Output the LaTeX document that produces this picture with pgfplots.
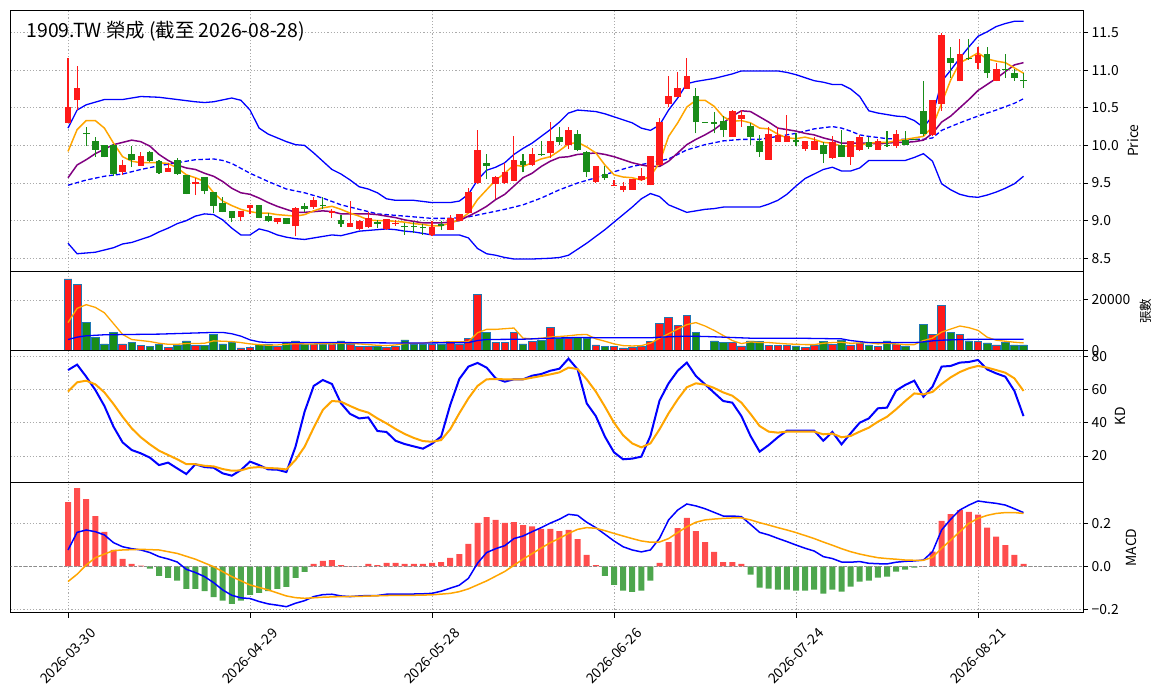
\documentclass[border=0pt]{standalone}
\usepackage{pgfplots}
\pgfplotsset{compat=1.18}
\usepackage{pgfplotstable}
\usepackage{fontspec}
\setmainfont{Noto Sans CJK TC}
\definecolor{cRed}{RGB}{255,25,25}
\definecolor{cGreen}{RGB}{25,140,25}
\definecolor{hRed}{RGB}{255,77,77}
\definecolor{hGreen}{RGB}{77,166,77}
\definecolor{cOrange}{RGB}{255,165,0}
\definecolor{cPurple}{RGB}{128,0,128}
\definecolor{cEdge}{RGB}{31,119,180}
\definecolor{cBlue}{RGB}{0,0,255}
\newcommand\tf{\fontsize{13.9bp}{16bp}\selectfont}

\pgfplotstableread{
i o h l c
0 10.30 11.16 10.30 10.51
1 10.60 11.05 10.47 10.76
6 9.65 9.81 9.61 9.74
8 9.73 9.91 9.73 9.86
11 9.65 9.77 9.65 9.70
14 9.49 9.57 9.34 9.52
19 9.05 9.13 8.99 9.13
20 9.17 9.21 9.09 9.21
23 8.98 9.03 8.95 9.03
25 8.925 9.18 8.79 9.17
27 9.18 9.31 9.16 9.27
29 9.10 9.15 9.04 9.13
31 8.92 9.26 8.92 8.97
32 8.89 9.01 8.87 9.00
33 8.91 9.12 8.90 9.04
35 8.89 9.02 8.88 9.02
36 8.95 9.01 8.93 8.97
40 8.81 8.99 8.80 8.92
42 8.88 9.08 8.87 9.04
43 9.00 9.09 8.99 9.09
44 9.10 9.44 9.10 9.38
45 9.50 10.21 9.49 9.94
47 9.49 9.59 9.29 9.58
48 9.50 9.77 9.49 9.65
49 9.53 10.12 9.53 9.81
51 9.74 9.96 9.73 9.88
53 9.90 10.31 9.83 10.06
55 10.01 10.25 9.95 10.21
58 9.52 9.73 9.50 9.73
60 9.46 9.54 9.46 9.48
61 9.41 9.52 9.38 9.46
62 9.41 9.56 9.41 9.55
63 9.54 9.70 9.53 9.59
64 9.47 9.86 9.47 9.86
65 9.74 10.36 9.72 10.31
66 10.55 10.92 10.51 10.66
67 10.64 10.97 10.64 10.76
68 10.75 11.16 10.75 10.92
73 10.11 10.47 10.11 10.46
74 10.35 10.47 10.25 10.40
77 9.81 10.25 9.81 10.15
78 10.05 10.25 10.05 10.14
79 10.05 10.41 10.05 10.12
81 9.95 10.06 9.93 10.06
82 9.94 10.11 9.94 10.06
84 9.83 10.12 9.82 10.05
86 9.85 10.06 9.74 10.06
87 9.94 10.14 9.92 10.11
89 9.94 10.09 9.94 10.06
91 9.99 10.21 9.97 10.15
95 10.14 10.61 10.13 10.61
96 10.55 11.50 10.46 11.47
98 10.85 11.41 10.85 11.22
100 11.10 11.31 11.01 11.20
102 10.85 11.10 10.85 11.01
}\up

\pgfplotstableread{
i o h l c
2 10.16 10.25 9.99 10.15
3 10.06 10.11 9.85 9.94
4 10.00 10.01 9.84 9.85
5 10.01 10.02 9.59 9.62
7 9.89 9.99 9.71 9.80
9 9.91 9.92 9.78 9.79
10 9.79 9.80 9.62 9.63
12 9.80 9.83 9.61 9.62
13 9.61 9.61 9.35 9.36
15 9.58 9.58 9.35 9.40
16 9.38 9.38 9.10 9.20
17 9.23 9.32 9.11 9.12
18 9.13 9.13 8.98 9.04
21 9.21 9.21 9.03 9.04
22 9.06 9.10 8.98 9.00
24 9.04 9.04 8.95 8.96
26 9.20 9.24 9.12 9.16
28 9.21 9.32 9.15 9.19
30 9.01 9.07 8.92 8.96
34 8.98 9.01 8.90 8.96
37 8.92 8.97 8.81 8.915
38 8.93 8.98 8.83 8.92
39 8.92 8.96 8.81 8.90
41 8.96 8.99 8.88 8.93
46 9.76 9.88 9.55 9.73
50 9.79 9.88 9.64 9.74
52 9.88 10.06 9.86 9.87
54 10.11 10.25 10.00 10.05
56 10.15 10.21 9.92 9.94
57 9.91 9.92 9.58 9.64
59 9.62 9.72 9.54 9.57
69 10.66 10.76 10.16 10.31
70 10.31 10.31 10.30 10.30
71 10.31 10.45 10.16 10.29
72 10.32 10.39 10.11 10.20
75 10.26 10.30 10.01 10.11
76 10.06 10.14 9.85 9.91
80 10.07 10.16 9.99 10.05
83 10.01 10.05 9.77 9.88
85 10.00 10.21 9.85 9.85
88 10.05 10.11 9.95 9.98
90 10.01 10.19 9.98 9.99
92 10.07 10.19 10.00 10.00
93 10.08 10.08 10.07 10.07
94 10.46 10.86 10.13 10.15
97 11.16 11.31 10.90 11.10
99 11.16 11.41 11.14 11.15
101 11.21 11.31 10.90 10.96
103 11.01 11.22 10.90 11.00
104 10.96 11.01 10.86 10.90
105 10.86 10.96 10.76 10.85
}\dn

\pgfplotstableread{
i v
0 28270
1 26270
6 2670
8 2130
11 1200
14 2130
19 1070
20 1330
23 1730
25 3870
27 2670
29 2670
31 2670
32 1730
33 1730
35 1330
36 1730
40 2670
42 3730
43 2670
44 4930
45 22270
47 3330
48 3330
49 7070
51 3600
53 9000
55 4930
58 2270
60 1730
61 1070
62 1470
63 1730
64 3600
65 10670
66 13070
67 10000
68 14000
73 3330
74 1870
77 2130
78 2130
79 2130
81 1330
82 2130
84 2400
86 2270
87 3070
89 1730
91 2530
95 6270
96 17870
98 6270
100 3600
102 2270
}\vup

\pgfplotstableread{
i v
2 11070
3 5070
4 2670
5 7200
7 3200
9 1730
10 2400
12 2130
13 3870
15 2130
16 6400
17 2670
18 3330
21 2400
22 2400
24 3470
26 2400
28 2670
30 3870
34 1730
37 4270
38 2670
39 2670
41 2670
46 7330
50 2670
52 4200
54 4930
56 5200
57 4930
59 1730
69 7070
71 3870
72 3200
75 3870
76 3600
80 1870
83 3600
85 4270
88 2270
90 3870
92 1870
94 10270
97 7070
99 3870
101 3070
103 3200
104 2270
105 2270
}\vdn

\pgfplotstableread{
i v
0 0.299
1 0.364
2 0.313
3 0.234
4 0.160
5 0.076
6 0.034
7 0.011
8 0.003
27 0.011
28 0.025
29 0.029
30 0.006
31 0.001
32 0.001
33 0.011
34 0.006
35 0.016
36 0.016
37 0.011
38 0.011
39 0.011
40 0.016
41 0.020
42 0.039
43 0.057
44 0.104
45 0.202
46 0.229
47 0.216
48 0.202
49 0.206
50 0.192
51 0.186
52 0.174
53 0.174
54 0.164
55 0.169
56 0.127
57 0.053
58 0.006
65 0.016
66 0.113
67 0.178
68 0.225
69 0.164
70 0.113
71 0.067
72 0.020
73 0.020
74 0.011
94 0.001
95 0.068
96 0.212
97 0.243
98 0.262
99 0.253
100 0.240
101 0.180
102 0.138
103 0.099
104 0.053
105 0.011
}\hup

\pgfplotstableread{
i v
9 -0.011
10 -0.045
11 -0.054
12 -0.067
13 -0.105
14 -0.105
15 -0.115
16 -0.143
17 -0.160
18 -0.175
19 -0.160
20 -0.133
21 -0.124
22 -0.115
23 -0.105
24 -0.096
25 -0.054
26 -0.026
59 -0.045
60 -0.087
61 -0.113
62 -0.119
63 -0.113
64 -0.067
75 -0.039
76 -0.099
77 -0.104
78 -0.109
79 -0.109
80 -0.113
81 -0.113
82 -0.109
83 -0.127
84 -0.109
85 -0.118
86 -0.095
87 -0.071
88 -0.067
89 -0.053
90 -0.048
91 -0.025
92 -0.016
93 -0.006
}\hdn

\pgfplotsset{
  panel/.style={
    scale only axis, width=1072.8bp,
    xmin=-6.32, xmax=111.57,
    xtick={0,20,40,60,80,100},
    grid=major,
    grid style={line width=0.8bp, draw=black!33, dash pattern=on 1.2bp off 2bp},
    axis line style={line width=0.9bp},
    ytick pos=right, yticklabel pos=right,
    tick align=outside,
    major tick length=4.9bp,
    tick style={black, line width=0.9bp},
    ticklabel style={font=\tf},
    yticklabel style={anchor=west},
    ylabel style={anchor=center, font=\tf},
    scaled y ticks=false,
  },
  notx/.style={xticklabels={}, xtick style={draw=none}},
  wick/.style={draw=none, mark=none, forget plot, error bars/.cd, y dir=plus, y explicit, error mark=none,
    error bar style={draw=#1, line width=1.1bp, solid}},
  body/.style={draw=none, mark=none, forget plot, error bars/.cd, y dir=plus, y explicit, error mark=none,
    error bar style={draw=#1, line width=6.6bp, solid}},
}

\begin{document}
\begin{tikzpicture}
\path[use as bounding box] (-10.5bp,-85.3bp) rectangle (1153.5bp,612.7bp);

% ---------------- Price panel ----------------
\begin{axis}[panel, notx, at={(0,341.2bp)}, height=261.5bp,
  ymin=8.324, ymax=11.80,
  ytick={8.5,9,9.5,10,10.5,11,11.5},
  yticklabels={8.5,9.0,9.5,10.0,10.5,11.0,11.5},
  ylabel={Price}, ylabel style={at={(axis description cs:1.0466,0.5)}}]
% Bollinger bands
\addplot[cBlue, line width=1.3bp] coordinates {
(0,10.23)(1,10.47)(2,10.54)(4,10.61)(6,10.61)(8,10.65)(10,10.64)(12,10.61)(14,10.58)(15,10.57)(16,10.58)(18,10.63)(19,10.60)(20,10.47)(21,10.23)(22,10.15)(24,10.05)(25,10.01)(26,10.00)(27,9.90)(28,9.79)(29,9.68)(30,9.62)(31,9.54)(32,9.45)(33,9.42)(34,9.37)(35,9.29)(36,9.27)(38,9.27)(40,9.24)(42,9.24)(43,9.26)(44,9.35)(45,9.54)(46,9.67)(47,9.71)(48,9.77)(49,9.88)(50,9.96)(51,10.03)(52,10.12)(53,10.21)(54,10.31)(55,10.43)(56,10.47)(57,10.46)(58,10.45)(59,10.42)(60,10.38)(62,10.30)(63,10.23)(64,10.20)(65,10.27)(66,10.47)(67,10.63)(68,10.82)(69,10.85)(70,10.87)(71,10.89)(72,10.92)(73,10.95)(74,10.99)(76,10.99)(78,10.99)(79,10.97)(80,10.94)(81,10.90)(82,10.86)(83,10.84)(84,10.81)(85,10.81)(86,10.75)(87,10.65)(88,10.46)(89,10.43)(90,10.41)(91,10.39)(92,10.38)(93,10.33)(94,10.24)(95,10.39)(96,10.85)(97,11.00)(98,11.16)(99,11.31)(100,11.45)(101,11.51)(102,11.58)(103,11.62)(104,11.65)(105,11.65)};
\addplot[cBlue, line width=1.3bp] coordinates {
(0,8.70)(1,8.56)(3,8.58)(4,8.61)(5,8.64)(6,8.69)(7,8.71)(8,8.75)(9,8.79)(10,8.85)(11,8.90)(12,8.96)(13,9.00)(14,9.06)(15,9.09)(16,9.08)(17,9.01)(18,8.90)(19,8.81)(20,8.81)(21,8.89)(22,8.86)(23,8.81)(24,8.78)(25,8.76)(26,8.75)(27,8.77)(28,8.79)(29,8.81)(30,8.80)(31,8.83)(32,8.86)(33,8.87)(34,8.88)(35,8.89)(36,8.88)(37,8.86)(38,8.85)(39,8.83)(40,8.81)(42,8.81)(43,8.81)(44,8.77)(45,8.63)(46,8.56)(47,8.54)(48,8.51)(49,8.49)(51,8.49)(53,8.50)(54,8.51)(55,8.54)(56,8.62)(57,8.70)(58,8.79)(59,8.88)(60,8.98)(61,9.08)(62,9.18)(63,9.29)(64,9.36)(65,9.32)(66,9.21)(67,9.16)(68,9.11)(69,9.13)(70,9.15)(71,9.16)(72,9.18)(74,9.18)(76,9.18)(77,9.22)(78,9.27)(79,9.35)(80,9.46)(81,9.56)(82,9.62)(83,9.68)(84,9.71)(85,9.66)(86,9.66)(87,9.70)(88,9.80)(90,9.80)(92,9.80)(93,9.84)(94,9.89)(95,9.79)(96,9.49)(97,9.41)(98,9.35)(99,9.32)(100,9.31)(101,9.34)(102,9.38)(103,9.43)(104,9.49)(105,9.59)};
\addplot[cBlue, line width=1.3bp, dash pattern=on 4.5bp off 2.5bp] coordinates {
(0,9.47)(2,9.54)(4,9.59)(6,9.62)(8,9.68)(10,9.73)(12,9.77)(14,9.81)(16,9.82)(17,9.80)(18,9.76)(20,9.63)(22,9.52)(24,9.42)(26,9.37)(28,9.30)(30,9.21)(32,9.15)(34,9.09)(36,9.07)(38,9.05)(40,9.03)(42,9.03)(44,9.05)(46,9.10)(48,9.15)(50,9.21)(52,9.30)(54,9.41)(56,9.50)(58,9.57)(60,9.65)(62,9.72)(64,9.77)(66,9.82)(68,9.94)(70,10.01)(72,10.06)(74,10.08)(76,10.08)(78,10.12)(80,10.16)(82,10.22)(84,10.25)(85,10.23)(86,10.19)(87,10.14)(88,10.12)(90,10.09)(92,10.08)(94,10.08)(95,10.10)(96,10.20)(98,10.30)(100,10.39)(102,10.47)(104,10.56)(105,10.62)};
% MA lines
\addplot[cPurple, line width=1.5bp] coordinates {
(0,9.57)(1,9.74)(2,9.81)(3,9.89)(4,9.95)(5,10.01)(6,10.04)(7,10.07)(8,10.05)(9,9.99)(10,9.88)(11,9.80)(12,9.74)(13,9.70)(14,9.68)(15,9.63)(16,9.59)(17,9.52)(18,9.43)(19,9.37)(20,9.35)(21,9.30)(22,9.24)(23,9.19)(24,9.15)(25,9.11)(26,9.11)(27,9.12)(28,9.13)(29,9.12)(30,9.09)(31,9.09)(32,9.09)(33,9.09)(34,9.08)(35,9.06)(36,9.04)(37,9.01)(38,8.99)(39,8.97)(40,8.97)(41,8.97)(42,8.98)(43,9.00)(44,9.06)(45,9.12)(46,9.19)(47,9.28)(48,9.35)(49,9.46)(50,9.57)(51,9.63)(52,9.72)(53,9.79)(54,9.84)(55,9.85)(56,9.88)(57,9.89)(58,9.90)(59,9.88)(60,9.85)(61,9.81)(62,9.77)(63,9.74)(64,9.72)(65,9.72)(66,9.79)(67,9.90)(68,10.01)(69,10.08)(70,10.14)(71,10.21)(72,10.30)(73,10.39)(74,10.46)(75,10.45)(76,10.38)(77,10.31)(78,10.23)(79,10.21)(80,10.19)(81,10.16)(82,10.14)(83,10.10)(84,10.07)(85,10.03)(86,10.03)(87,10.03)(88,10.03)(89,10.02)(90,10.03)(91,10.04)(92,10.04)(93,10.05)(94,10.07)(95,10.16)(96,10.31)(97,10.39)(98,10.50)(99,10.61)(100,10.73)(101,10.81)(102,10.89)(103,10.98)(104,11.07)(105,11.10)};
\addplot[cOrange, line width=1.5bp] coordinates {
(0,9.92)(1,10.21)(2,10.33)(3,10.33)(4,10.23)(5,10.03)(6,9.85)(7,9.79)(8,9.77)(9,9.77)(10,9.77)(11,9.76)(12,9.70)(13,9.61)(14,9.57)(15,9.52)(16,9.37)(17,9.26)(18,9.20)(19,9.15)(20,9.12)(21,9.10)(22,9.10)(23,9.08)(24,9.07)(25,9.06)(26,9.08)(27,9.13)(28,9.17)(29,9.19)(30,9.15)(31,9.10)(32,9.06)(33,9.01)(34,9.00)(35,9.00)(36,8.99)(37,8.98)(38,8.96)(39,8.95)(40,8.93)(41,8.93)(42,8.97)(43,9.01)(44,9.10)(45,9.28)(46,9.41)(47,9.54)(48,9.63)(49,9.74)(50,9.72)(51,9.77)(52,9.82)(53,9.85)(54,9.93)(55,10.02)(56,10.04)(57,9.98)(58,9.90)(59,9.74)(60,9.61)(61,9.58)(62,9.57)(63,9.54)(64,9.59)(65,9.77)(66,10.12)(67,10.30)(68,10.51)(69,10.60)(70,10.60)(71,10.52)(72,10.38)(73,10.32)(74,10.33)(75,10.30)(76,10.23)(77,10.22)(78,10.15)(79,10.10)(80,10.09)(81,10.11)(82,10.08)(83,10.04)(84,10.03)(85,9.99)(86,9.99)(87,10.00)(88,10.03)(89,10.04)(90,10.04)(91,10.06)(92,10.08)(93,10.10)(94,10.12)(95,10.25)(96,10.56)(97,10.87)(98,11.10)(99,11.16)(100,11.23)(101,11.15)(102,11.12)(103,11.10)(104,11.03)(105,10.96)};
% candle wicks
\addplot[wick=cRed] table[x=i, y=l, y error plus expr={\thisrow{h}-\thisrow{l}}] {\up};
\addplot[wick=cGreen] table[x=i, y=l, y error plus expr={\thisrow{h}-\thisrow{l}}] {\dn};
% candle bodies
\addplot[body=cRed] table[x=i, y=o, y error plus expr={max(\thisrow{c}-\thisrow{o},0.013)}] {\up};
\addplot[body=cGreen] table[x=i, y=c, y error plus expr={max(\thisrow{o}-\thisrow{c},0.013)}] {\dn};
\node[anchor=base west, font=\fontsize{19.4bp}{22bp}\selectfont, inner sep=0pt] at (axis description cs:0.0149,0.895) {1909.TW 榮成 (截至 2026-08-28)};
\end{axis}

% ---------------- Volume panel ----------------
\begin{axis}[panel, notx, at={(0,262bp)}, height=79.2bp,
  ymin=0, ymax=31200,
  ytick={0,20000}, yticklabels={0,20000},
  ylabel={張數}, ylabel style={at={(axis description cs:1.0578,0.5)}, font=\fontsize{12.5bp}{14bp}\selectfont}]
\addplot[ybar, bar width=7.6bp, bar shift=0pt, fill=cRed, draw=cEdge, line width=0.7bp] table[x=i,y=v] {\vup};
\addplot[ybar, bar width=7.6bp, bar shift=0pt, fill=cGreen, draw=cEdge, line width=0.7bp] table[x=i,y=v] {\vdn};
\addplot[cOrange, line width=1.3bp] coordinates {
(0,11070)(1,16670)(2,18130)(3,17070)(4,14930)(5,10670)(6,6400)(7,4400)(8,4000)(9,3600)(10,2930)(11,2530)(12,2530)(13,2800)(14,2800)(15,2930)(16,3870)(17,3730)(18,3600)(19,3200)(20,2670)(21,2400)(22,2130)(23,2270)(24,2530)(25,2800)(26,2670)(27,2670)(28,2800)(29,2670)(30,2930)(31,2800)(32,2670)(33,2400)(34,2130)(35,2000)(36,2270)(37,2800)(38,2930)(39,2930)(40,3470)(41,3330)(42,3470)(43,3470)(44,3600)(45,7070)(46,8400)(47,8400)(48,8670)(49,8930)(50,4930)(51,4670)(52,4930)(53,5400)(54,5600)(55,5870)(56,6270)(57,6400)(58,4670)(59,3730)(60,2670)(61,2000)(62,1870)(63,2000)(64,2930)(65,4930)(66,6670)(67,8530)(68,10270)(69,11070)(70,9730)(71,8000)(72,6000)(73,4000)(74,2800)(75,3470)(76,3200)(77,3200)(78,2930)(79,2670)(80,2530)(81,2400)(82,2400)(83,2930)(84,3200)(85,3330)(86,2930)(87,3070)(88,3200)(89,2670)(90,2930)(91,2670)(92,2400)(93,2400)(94,4000)(95,4930)(96,7330)(97,8530)(98,9730)(99,9070)(100,8000)(101,5330)(102,4130)(103,3730)(104,3330)(105,3070)};
\addplot[cBlue, line width=1.3bp] coordinates {
(0,4400)(1,5330)(2,5870)(4,6270)(10,6530)(16,7200)(17,7200)(18,6670)(19,5730)(20,4270)(21,3470)(22,3200)(25,3200)(30,3200)(35,3070)(40,3070)(44,3200)(45,4000)(46,4400)(50,4530)(53,4930)(56,5200)(60,5070)(64,5070)(65,5330)(66,5470)(67,5600)(68,5730)(70,5600)(75,4930)(80,4930)(85,4670)(86,4000)(87,3600)(88,3200)(90,3200)(93,3200)(94,3470)(95,3870)(96,4130)(98,4400)(100,4530)(105,4530)};
\end{axis}

% ---------------- KD panel ----------------
\begin{axis}[panel, notx, at={(0,130.4bp)}, height=131.6bp,
  ymin=4.1, ymax=83.6,
  ytick={20,40,60,80}, yticklabels={20,40,60,80},
  ylabel={KD}, ylabel style={at={(axis description cs:1.0345,0.5)}}]
\addplot[cBlue, line width=2bp] coordinates {
(0,71.9)(1,75.2)(2,67.9)(3,59.9)(4,50.2)(5,37.7)(6,28.2)(7,23.6)(8,21.6)(9,19.0)(10,14.5)(11,16.0)(12,12.5)(13,9.1)(14,15.0)(15,13.3)(16,12.9)(17,9.5)(18,8.1)(19,11.5)(20,16.6)(21,14.5)(22,11.9)(23,11.7)(24,10.3)(25,25.6)(26,46.8)(27,62.3)(28,65.9)(29,63.5)(30,51.8)(31,45.4)(32,42.7)(33,43.3)(34,35.1)(35,34.5)(36,29.2)(37,27.2)(38,25.8)(39,24.4)(40,27.4)(41,31.7)(42,50.8)(43,66.5)(44,74.0)(45,76.2)(46,73.4)(47,66.9)(48,64.9)(49,66.3)(50,66.3)(51,68.5)(52,69.5)(53,71.5)(54,72.7)(55,78.8)(56,72.3)(57,51.8)(58,44.1)(59,31.7)(60,22.2)(61,18.0)(62,18.4)(63,19.6)(64,32.1)(65,53.4)(66,63.9)(67,71.5)(68,76.4)(69,68.3)(70,63.3)(71,58.2)(72,53.2)(73,52.2)(74,44.1)(75,32.1)(76,22.6)(77,26.6)(78,31.3)(79,35.3)(80,35.3)(81,35.3)(82,35.3)(83,29.2)(84,34.5)(85,27.0)(86,33.7)(87,40.1)(88,42.7)(89,48.8)(90,49.2)(91,59.5)(92,62.9)(93,65.5)(94,55.8)(95,61.9)(96,74.0)(97,74.4)(98,76.4)(99,76.8)(100,78.0)(101,72.3)(102,69.9)(103,67.9)(104,59.3)(105,44.1)};
\addplot[cOrange, line width=2bp] coordinates {
(0,58.9)(1,64.5)(2,65.5)(3,63.3)(4,58.4)(5,51.4)(6,43.7)(7,36.7)(8,31.3)(9,27.0)(10,23.2)(11,20.6)(12,18.0)(13,15.1)(14,15.0)(15,14.1)(16,13.7)(17,12.1)(18,11.1)(19,11.3)(20,12.9)(21,13.3)(22,12.7)(23,12.5)(24,11.9)(25,17.6)(26,25.6)(27,37.1)(28,47.8)(29,53.2)(30,52.8)(31,50.2)(32,47.8)(33,46.2)(34,42.7)(35,39.7)(36,36.3)(37,33.3)(38,30.9)(39,29.0)(40,28.6)(41,29.6)(42,36.1)(43,45.8)(44,54.8)(45,62.3)(46,66.3)(47,66.5)(48,66.3)(49,66.3)(50,66.3)(51,67.3)(52,68.3)(53,69.3)(54,70.5)(55,73.4)(56,72.5)(57,66.3)(58,58.9)(59,49.8)(60,40.1)(61,32.5)(62,27.6)(63,25.2)(64,27.6)(65,36.1)(66,45.8)(67,54.2)(68,61.5)(69,63.9)(70,63.1)(71,61.1)(72,58.4)(73,56.4)(74,52.2)(75,45.4)(76,38.1)(77,34.7)(78,34.1)(79,34.7)(80,34.7)(81,34.7)(82,34.7)(83,33.1)(84,33.5)(85,31.3)(86,32.1)(87,34.7)(88,37.1)(89,40.7)(90,43.7)(91,48.2)(92,53.2)(93,57.8)(94,57.2)(95,58.7)(96,63.5)(97,67.5)(98,70.7)(99,73.0)(100,74.4)(101,73.4)(102,71.9)(103,70.3)(104,66.9)(105,59.3)};
\end{axis}

% ---------------- MACD panel ----------------
\begin{axis}[panel, at={(0,0)}, height=130.4bp,
  ymin=-0.216, ymax=0.391,
  ytick={-0.2,0,0.2}, yticklabels={−0.2,0.0,0.2},
  xtick pos=bottom,
  xticklabels={2026-03-30,2026-04-29,2026-05-28,2026-06-26,2026-07-24,2026-08-21},
  xticklabel style={yshift=-38.5bp, rotate=45, anchor=center},
  ylabel={MACD}, ylabel style={at={(axis description cs:1.0447,0.5)}}]
\addplot[ybar, bar width=6bp, bar shift=0pt, fill=hRed, draw=none] table[x=i,y=v] {\hup};
\addplot[ybar, bar width=6bp, bar shift=0pt, fill=hGreen, draw=none] table[x=i,y=v] {\hdn};
\addplot[black!45, line width=0.9bp, dash pattern=on 3bp off 2bp] coordinates {(-7,0)(112,0)};
\addplot[cBlue, line width=1.5bp] coordinates {
(0,0.076)(1,0.158)(2,0.169)(3,0.161)(4,0.146)(5,0.110)(6,0.091)(7,0.082)(8,0.076)(9,0.064)(10,0.045)(11,0.034)(12,0.020)(13,-0.014)(14,-0.029)(15,-0.048)(16,-0.076)(17,-0.110)(18,-0.135)(19,-0.147)(20,-0.150)(21,-0.164)(22,-0.175)(23,-0.181)(24,-0.188)(25,-0.172)(26,-0.160)(27,-0.141)(28,-0.132)(29,-0.130)(30,-0.138)(31,-0.141)(32,-0.138)(33,-0.136)(34,-0.136)(35,-0.130)(36,-0.129)(37,-0.129)(38,-0.129)(39,-0.128)(40,-0.126)(41,-0.116)(42,-0.102)(43,-0.088)(44,-0.056)(45,0.014)(46,0.064)(47,0.082)(48,0.096)(49,0.129)(50,0.141)(51,0.161)(52,0.180)(53,0.201)(54,0.219)(55,0.242)(56,0.237)(57,0.205)(58,0.180)(59,0.149)(60,0.118)(61,0.091)(62,0.076)(63,0.067)(64,0.076)(65,0.130)(66,0.216)(67,0.262)(68,0.290)(69,0.281)(70,0.268)(71,0.251)(72,0.234)(73,0.234)(74,0.231)(75,0.195)(76,0.158)(77,0.146)(78,0.130)(79,0.115)(80,0.099)(81,0.084)(82,0.071)(83,0.045)(84,0.036)(85,0.020)(86,0.019)(87,0.022)(88,0.014)(89,0.012)(90,0.011)(91,0.019)(92,0.023)(93,0.025)(94,0.029)(95,0.068)(96,0.169)(97,0.219)(98,0.262)(99,0.285)(100,0.304)(101,0.298)(102,0.293)(103,0.285)(104,0.268)(105,0.250)};
\addplot[cOrange, line width=1.5bp] coordinates {
(0,-0.071)(1,-0.037)(2,0.006)(3,0.040)(4,0.057)(5,0.073)(6,0.076)(8,0.079)(10,0.076)(12,0.060)(14,0.033)(16,-0.002)(18,-0.048)(20,-0.087)(22,-0.110)(24,-0.138)(25,-0.146)(26,-0.149)(28,-0.144)(30,-0.141)(32,-0.140)(35,-0.136)(38,-0.135)(40,-0.133)(42,-0.126)(43,-0.118)(44,-0.105)(46,-0.068)(48,-0.024)(50,0.033)(52,0.085)(53,0.110)(54,0.130)(55,0.153)(56,0.172)(57,0.180)(58,0.177)(59,0.166)(60,0.153)(61,0.141)(62,0.129)(63,0.118)(64,0.112)(65,0.113)(66,0.129)(67,0.157)(68,0.184)(69,0.205)(70,0.216)(71,0.220)(72,0.223)(73,0.225)(74,0.225)(75,0.216)(76,0.203)(77,0.192)(78,0.180)(79,0.169)(80,0.157)(81,0.143)(82,0.129)(83,0.113)(84,0.098)(85,0.082)(86,0.068)(87,0.057)(88,0.048)(89,0.040)(90,0.036)(91,0.033)(92,0.029)(93,0.028)(94,0.028)(95,0.042)(96,0.084)(97,0.122)(98,0.161)(99,0.200)(100,0.223)(101,0.237)(102,0.246)(103,0.250)(104,0.250)(105,0.246)};
\end{axis}
\end{tikzpicture}
\end{document}
